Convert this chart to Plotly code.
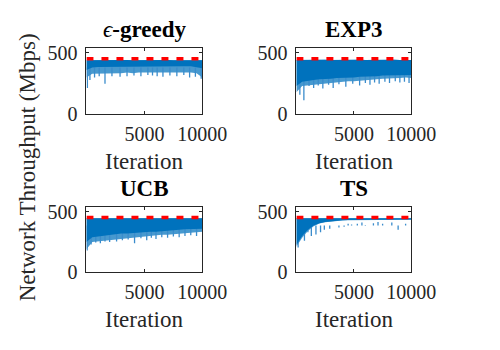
import plotly.graph_objects as go

# iteration grid the envelopes were read at
iterations = [0, 500, 1000, 1500, 2000, 2500, 3000, 3500, 4000, 4500, 5000,
              5500, 6000, 6500, 7000, 7500, 8000, 8500, 9000, 9500, 10000]

optimal = 452  # red dashed reference throughput

# epsilon-greedy
greedy_upper = [440, 441, 440, 442, 441, 440, 442, 441, 440, 441, 442,
                441, 440, 442, 441, 440, 441, 442, 440, 441, 440]
greedy_core = [360, 380, 385, 385, 385, 385, 385, 388, 388, 388, 390,
               390, 390, 390, 390, 390, 390, 390, 390, 385, 375]
greedy_low = [300, 330, 335, 330, 335, 335, 335, 340, 335, 340, 340,
              340, 345, 340, 340, 345, 340, 340, 340, 335, 300]
greedy_spike_x = [80, 300, 700, 1100, 1600, 2200, 2900, 3500, 4100, 4700, 5300,
                  5700, 6100, 6600, 7200, 7800, 8400, 8900, 9400, 9900]
greedy_spike_y = [215, 280, 300, 310, 250, 310, 305, 310, 315, 310, 320,
                  315, 310, 305, 315, 310, 320, 300, 305, 290]

# EXP3
exp3_upper = [442, 443, 442, 443, 442, 443, 442, 443, 442, 443, 442,
              443, 442, 443, 442, 443, 442, 443, 442, 443, 442]
exp3_core = [230, 265, 275, 280, 285, 290, 290, 295, 295, 300, 300,
             305, 305, 310, 310, 315, 315, 320, 320, 320, 320]
exp3_low = [180, 230, 240, 245, 250, 255, 260, 260, 265, 270, 270,
            275, 280, 280, 285, 290, 290, 295, 295, 300, 295]
exp3_spike_x = [300, 650, 1100, 1500, 1900, 2300, 2800, 3200, 3700, 4300, 4900,
                5500, 6000, 6400, 6800, 7200, 7700, 8100, 8600, 9000, 9400, 9800]
exp3_spike_y = [160, 115, 230, 215, 235, 210, 240, 215, 245, 225, 250,
                235, 255, 240, 260, 250, 265, 255, 270, 260, 265, 255]

# UCB
ucb_upper = [445, 446, 445, 446, 445, 446, 445, 446, 445, 446, 445,
             446, 445, 446, 445, 446, 445, 446, 445, 446, 445]
ucb_core = [250, 290, 300, 305, 310, 315, 320, 320, 325, 330, 330,
            335, 335, 340, 345, 345, 350, 355, 355, 360, 360]
ucb_low = [190, 250, 260, 265, 270, 275, 280, 285, 290, 295, 295,
           300, 305, 310, 310, 315, 320, 325, 325, 330, 335]
ucb_spike_x = [60, 400, 800, 1200, 1600, 2000, 2600, 3100, 3600, 4150, 4700,
               5200, 5600, 6000, 6500, 7000, 7500, 8000, 8500, 9000, 9500]
ucb_spike_y = [180, 230, 245, 240, 255, 250, 255, 265, 270, 240, 280,
               265, 285, 275, 290, 285, 295, 290, 300, 305, 300]

# TS
ts_upper = [445, 446, 445, 446, 445, 446, 445, 446, 445, 446, 445,
            446, 445, 446, 445, 446, 445, 446, 445, 446, 445]
ts_core = [225, 300, 350, 385, 405, 415, 420, 425, 428, 430, 430,
           432, 432, 433, 433, 434, 434, 435, 435, 435, 435]
ts_low = [210, 285, 340, 380, 402, 413, 418, 423, 426, 428, 428,
          430, 430, 431, 431, 432, 432, 433, 433, 433, 433]
ts_spike_x = [150, 700, 1000, 1300, 1700, 2100, 2430, 2900, 3300, 3700, 4150,
              4500, 4800, 5300, 5700, 6000, 6700, 7100, 7500, 8300, 8850, 9500]
ts_spike_y = [205, 260, 330, 300, 312, 330, 350, 360, 385, 370, 376,
              400, 395, 400, 410, 390, 405, 415, 400, 410, 350, 400]

x_ticks = [5000, 10000]
x_ticktext = ["5000", "10000"]
y_ticks = [0, 500]
y_ticktext = ["0", "500"]

panels = [
    ("<i>ϵ</i><b>-greedy</b>", greedy_upper, greedy_core, greedy_low, greedy_spike_x, greedy_spike_y),
    ("<b>EXP3</b>", exp3_upper, exp3_core, exp3_low, exp3_spike_x, exp3_spike_y),
    ("<b>UCB</b>", ucb_upper, ucb_core, ucb_low, ucb_spike_x, ucb_spike_y),
    ("<b>TS</b>", ts_upper, ts_core, ts_low, ts_spike_x, ts_spike_y),
]

W, H = 500, 350
# plot boxes in pixels: left, right, top, bottom
boxes = [(91, 213, 44, 114), (312, 433, 44, 114),
         (91, 213, 211, 280), (312, 433, 211, 280)]

BLUE = "#0072BD"
FONT = "Liberation Serif"
AX = "#262626"

fig = go.Figure()
layout = {}
annotations = []

for i, (title, upper, core, low, sx, sy) in enumerate(panels):
    n = "" if i == 0 else str(i + 1)
    xa, ya = "x" + n, "y" + n
    left, right, top, bottom = boxes[i]

    # light outer band
    fig.add_trace(go.Scatter(x=iterations + iterations[::-1], y=upper + low[::-1],
                             fill="toself", fillcolor="rgba(0,114,189,0.72)",
                             line=dict(width=0), mode="lines", xaxis=xa, yaxis=ya,
                             showlegend=False, hoverinfo="skip"))
    # downward spikes (drawn under the dense band)
    spx, spy = [], []
    for x, y in zip(sx, sy):
        spx += [x, x, None]
        spy += [upper[0] - 60, y, None]
    fig.add_trace(go.Scatter(x=spx, y=spy, mode="lines",
                             line=dict(color="#3a8ccc", width=1.3),
                             xaxis=xa, yaxis=ya, showlegend=False, hoverinfo="skip"))
    # dense core band
    fig.add_trace(go.Scatter(x=iterations + iterations[::-1], y=upper + core[::-1],
                             fill="toself", fillcolor=BLUE,
                             line=dict(width=0), mode="lines", xaxis=xa, yaxis=ya,
                             showlegend=False, hoverinfo="skip"))
    # optimal throughput
    fig.add_trace(go.Scatter(x=[iterations[0], iterations[-1]], y=[optimal, optimal],
                             mode="lines", line=dict(color="#FF0000", width=3.4, dash="7px,8px"),
                             xaxis=xa, yaxis=ya, showlegend=False, hoverinfo="skip"))

    axis_common = dict(showline=True, linecolor=AX, linewidth=1, mirror="ticks",
                       ticks="inside", ticklen=3, tickcolor=AX, showgrid=False,
                       zeroline=False, tickfont=dict(family=FONT, size=20, color=AX))
    layout["xaxis" + n] = dict(axis_common, domain=[left / W, right / W], range=[0, 10000],
                               tickmode="array", tickvals=x_ticks, ticktext=x_ticktext,
                               ticklabelstandoff=2, anchor=ya)
    layout["yaxis" + n] = dict(axis_common, domain=[1 - bottom / H, 1 - top / H], range=[0, 540],
                               tickmode="array", tickvals=y_ticks, ticktext=y_ticktext,
                               ticklabelstandoff=4, anchor=xa)

    cx = (left + right) / 2 / W
    annotations.append(dict(text=title, x=cx, y=1 - (top - 19) / H, xref="paper", yref="paper",
                            showarrow=False, xanchor="center", yanchor="middle",
                            font=dict(family=FONT, size=23, color="black")))
    annotations.append(dict(text="Iteration", x=cx, y=1 - (bottom + 49) / H, xref="paper", yref="paper",
                            showarrow=False, xanchor="center", yanchor="middle",
                            font=dict(family=FONT, size=23, color=AX)))

annotations.append(dict(text="Network Throughput (Mbps)", x=29 / W, y=1 - 170 / H,
                        xref="paper", yref="paper", showarrow=False, textangle=-90,
                        xanchor="center", yanchor="middle",
                        font=dict(family=FONT, size=23, color=AX)))

fig.update_layout(**layout)
fig.update_layout(width=W, height=H, autosize=False, margin=dict(l=0, r=0, t=0, b=0),
                  font=dict(family=FONT, color=AX),
                  plot_bgcolor="white", paper_bgcolor="white",
                  annotations=annotations)

# no page margin or scrollbars, so the 500x350 figure fills the window exactly
page_fix = ("document.documentElement.style.overflow='hidden';"
            "document.body.style.margin='0';document.body.style.overflow='hidden';")
fig.write_html("out.html", config={"responsive": False, "displayModeBar": False},
               post_script=page_fix)
